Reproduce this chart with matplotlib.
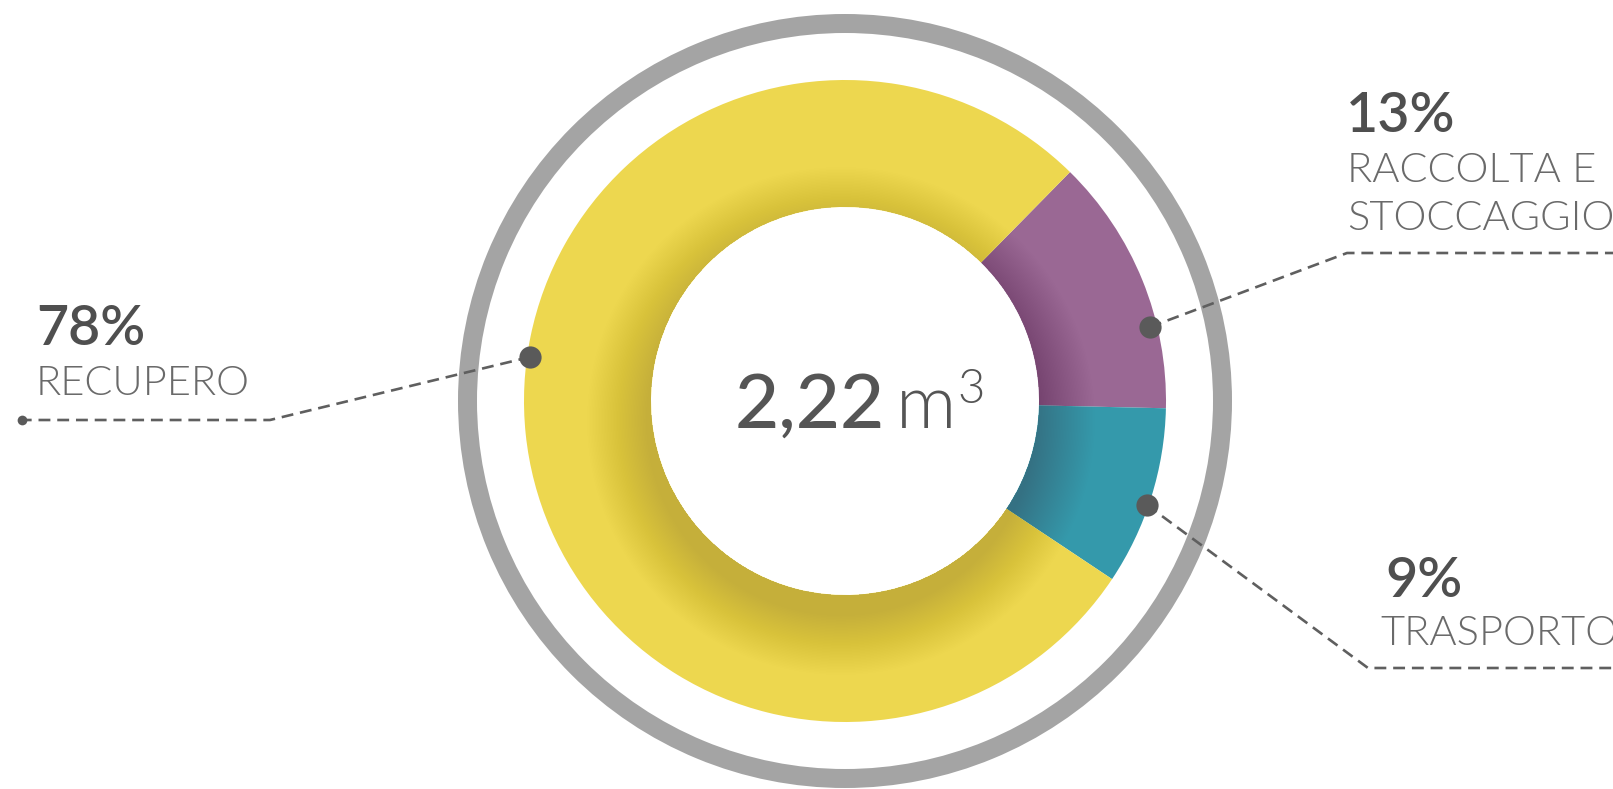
import numpy as np
import matplotlib.pyplot as plt
from matplotlib.patches import Wedge

plt.rcParams['font.family'] = ['Lato', 'DejaVu Sans']

# data
labels = ['RACCOLTA E\nSTOCCAGGIO', 'TRASPORTO', 'RECUPERO']
shares = [13, 9, 78]
colors = ['#9A6894', '#3499AB', '#EDD74F']
total_value = '2,22'
total_unit = 'm'

W, H = 1613, 789
fig = plt.figure(figsize=(W / 100, H / 100), dpi=100)
ax = fig.add_axes([0, 0, 1, 1])

def Y(y):  # image rows -> axis y (pixel coords, y up)
    return H - y

cx, cy = 845, Y(401)
r_out, r_in = 321, 194

# outer grey ring
ax.add_patch(Wedge((cx, cy), 387, 0, 360, width=19, color='#A4A4A4', lw=0))

wedges, _ = ax.pie(shares, colors=colors, startangle=45.5, counterclock=False,
                   radius=r_out, center=(cx, cy), frame=True,
                   wedgeprops=dict(width=r_out - r_in, linewidth=0))

# soft inner shadow, cast a bit downwards
clip = Wedge((cx, cy), r_out, 0, 360, width=r_out - r_in, transform=ax.transData)
for d in np.linspace(1, 60, 40):
    sh = Wedge((cx - 4, cy - 20), r_in + d, 0, 360, width=d + 40,
               fc='#3a3a3a', alpha=0.0042, lw=0)
    ax.add_patch(sh)
    sh.set_clip_path(clip)

# leader lines (image coords)
leaders = {
    'RECUPERO': [(530, 357), (270, 420), (22, 420)],
    'RACCOLTA': [(1150, 327), (1347, 253), (1620, 253)],
    'TRASPORTO': [(1147, 505), (1368, 668), (1620, 668)],
}
for pts in leaders.values():
    xs = [p[0] for p in pts]
    ys = [Y(p[1]) for p in pts]
    ax.plot(xs, ys, color='#5f5f5f', lw=1.9, dashes=(4.5, 2.6), zorder=4)
    ax.plot(xs[0], ys[0], 'o', color='#5a5a5a', ms=16, mew=0, zorder=5)
ax.plot(22, Y(420), 'o', color='#5a5a5a', ms=7, mew=0, zorder=5)

pct_kw = dict(fontsize=40, color='#4f4f4f', fontweight='semibold', va='baseline', ha='left')
lab_kw = dict(fontsize=30, color='#6a6a6a', fontweight=300, va='baseline', ha='left')

# RECUPERO
ax.text(36, Y(345), f'{shares[2]}%', **pct_kw)
ax.text(36, Y(395), labels[2], **lab_kw)
# RACCOLTA E STOCCAGGIO
ax.text(1346, Y(132), f'{shares[0]}%', **pct_kw)
for i, line in enumerate(labels[0].split('\n')):
    ax.text(1347, Y(182 + 48 * i), line, **lab_kw)
# TRASPORTO
ax.text(1385, Y(597), f'{shares[1]}%', **pct_kw)
ax.text(1380, Y(645), labels[1], **lab_kw)

# centre total
ax.text(735, Y(428), total_value, fontsize=55, color='#555555', fontweight='medium',
        va='baseline', ha='left')
ax.text(896, Y(428), total_unit, fontsize=54, color='#555555', fontweight=300,
        va='baseline', ha='left')
ax.text(957, Y(403), '3', fontsize=34, color='#555555', fontweight=300,
        va='baseline', ha='left')

ax.set_xlim(0, W)
ax.set_ylim(0, H)
ax.set_aspect('equal')
ax.axis('off')

fig.savefig('out.png', dpi=100, facecolor='white')
